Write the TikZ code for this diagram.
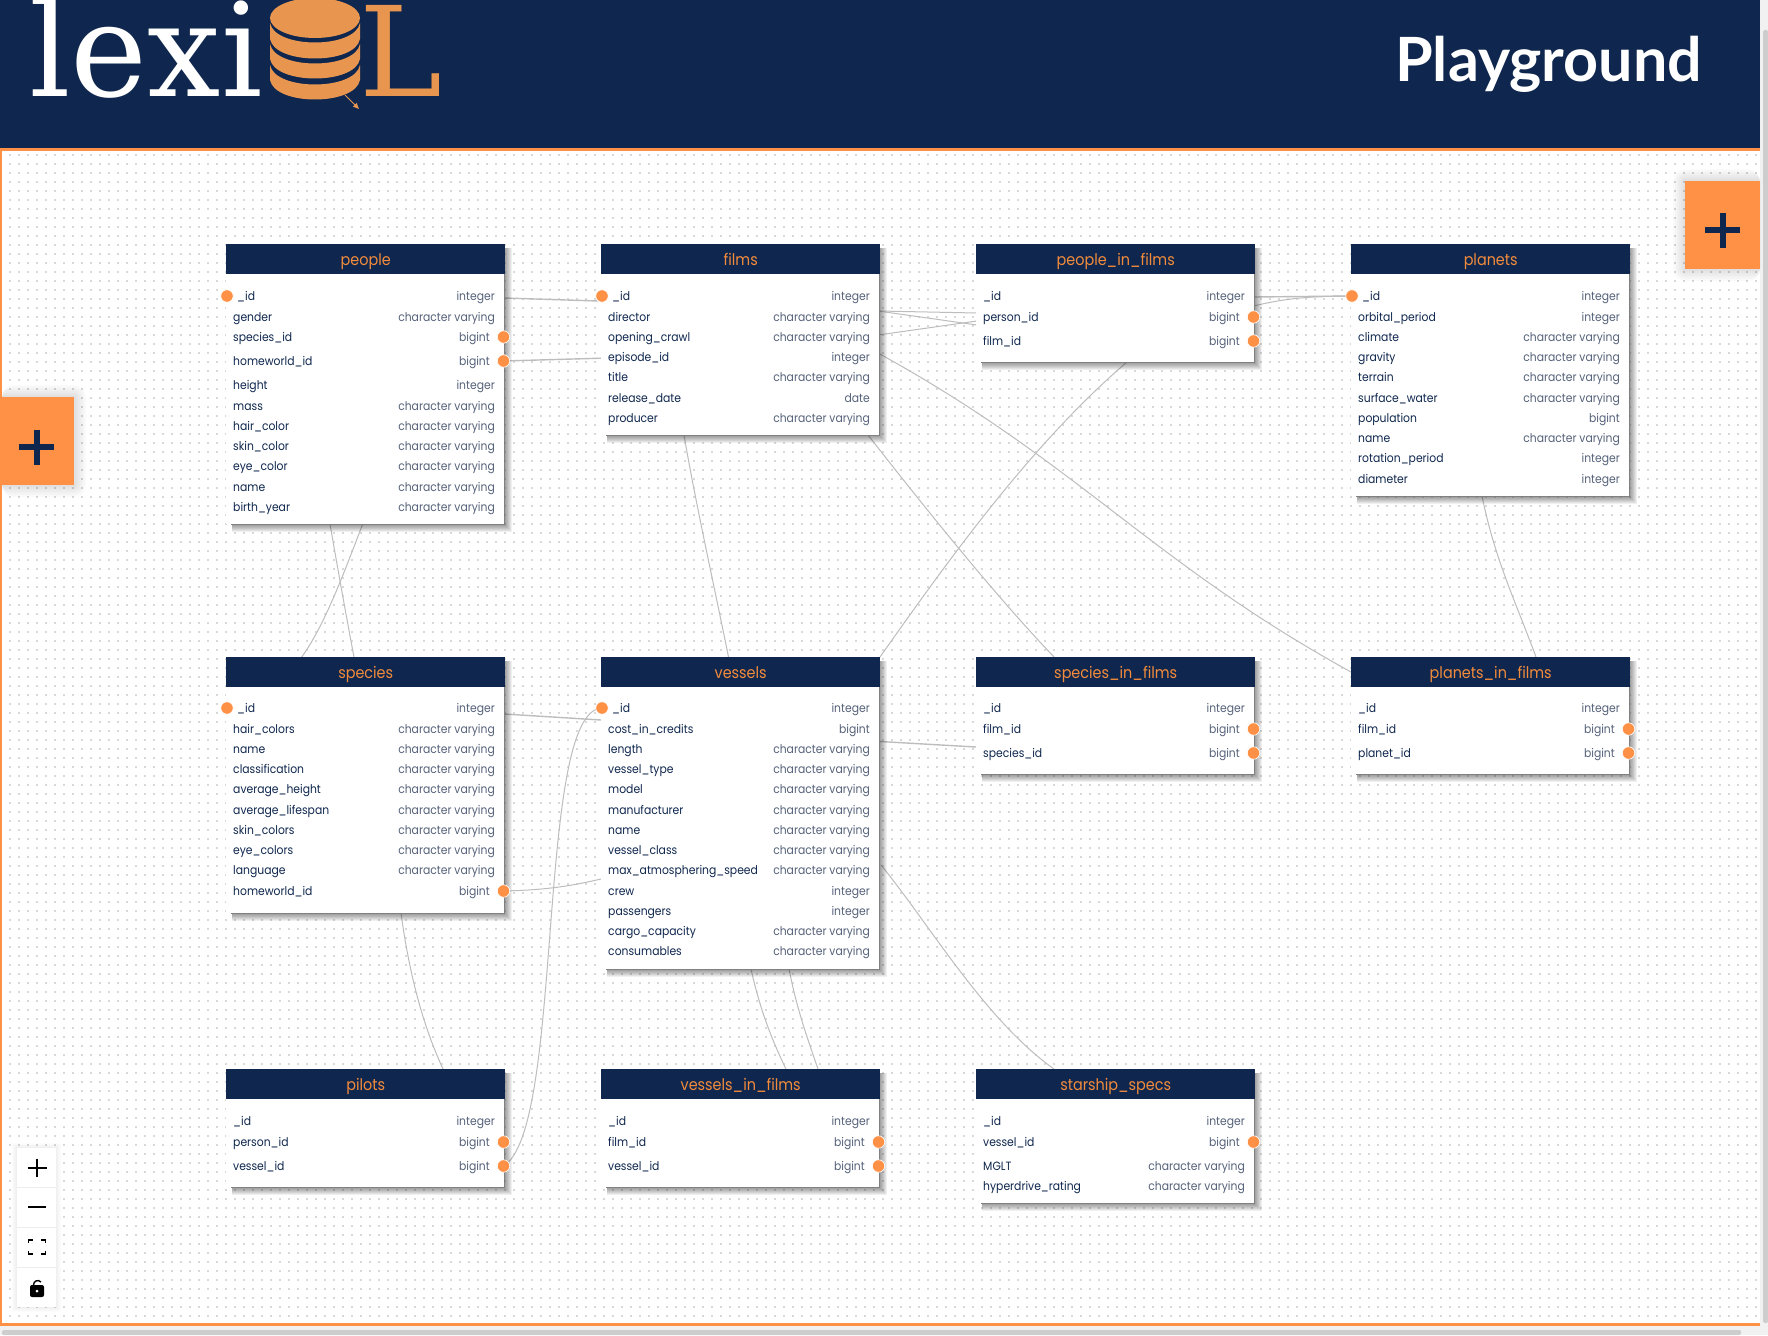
\documentclass[tikz,border=0pt]{standalone}
\usepackage{fontspec}
\usetikzlibrary{arrows.meta,calc}
\setmainfont{Poppins}[FakeStretch=0.9]
\newfontfamily\logofont{DejaVu Serif}
\newfontfamily\titlefont{Lato}[BoldFont={Lato Bold}]
\catcode`_=12
\definecolor{navy}{HTML}{0F274E}
\definecolor{orng}{HTML}{FF9147}
\definecolor{logoorng}{HTML}{E8964F}
\definecolor{typegray}{HTML}{56627A}
\definecolor{linegray}{HTML}{BDBDBD}
\definecolor{griddot}{HTML}{D8D8D8}
\definecolor{scrolltrack}{HTML}{F1F1F1}
\definecolor{scrollthumb}{HTML}{CDCDCD}
\definecolor{titleorng}{HTML}{F28B3C}
\pgfdeclarelayer{paperlayer}
\pgfdeclarelayer{gridlayer}
\pgfdeclarelayer{connlayer}
\pgfsetlayers{paperlayer,gridlayer,connlayer,main}
\tikzset{
  conn/.style={draw=linegray,line width=1pt},
  tablebody/.style={fill=white,inner sep=0pt,anchor=north west},
  tablehead/.style={fill=navy,text=titleorng,inner sep=0pt,anchor=north west,text height=12.5pt,text depth=0.5pt,font=\fontsize{16}{18}\selectfont},
  rowname/.style={anchor=base west,inner sep=0pt,text=navy,font=\fontsize{12}{14}\selectfont},
  rowtype/.style={anchor=base east,inner sep=0pt,text=typegray,font=\fontsize{12}{14}\selectfont},
  keydot/.style={circle,fill=orng,draw=white,line width=0.7pt,minimum size=12.5pt,inner sep=0pt},
  addbtn/.style={fill=orng,inner sep=0pt,anchor=north west,minimum width=75pt,minimum height=88pt},
  plusbar/.style={draw=navy,line width=6pt},
  ctrlbar/.style={draw=black,line width=1.6pt},
}
% #1 id, #2 left, #3 top, #4 bottom, #5 title, #6 rows y/name/type/kind (kind: i left dot, p plain, d right dot)
\newcommand{\dbtable}[6]{%
  \foreach \sd in {1,...,8}{%
    \fill[black,opacity=0.06] ({#2+6},{#3+4}) rectangle ({#2+278+\sd},{#4+\sd});
  }
  \fill[black!50] ({#2+5},{#3+2}) rectangle ({#2+279},{#4+1});
  \node[tablebody,minimum width=278pt,minimum height={#4-#3}] (#1) at (#2,#3) {};
  \node[tablehead,minimum width=279pt,minimum height=30pt] (#1-head) at (#2,#3) {#5};
  \foreach \ry/\rn/\rt/\rk [count=\ri] in {#6}{%
    \if\rk i
      \node[rowname] (#1-r\ri-name) at ({#2+11},{\ry+4}) {\rn};
      \node[keydot] (#1-r\ri-dot) at ({#2+1},\ry) {};
    \else
      \node[rowname] (#1-r\ri-name) at ({#2+7},{\ry+4}) {\rn};
    \fi
    \if\rk d
      \node[rowtype] (#1-r\ri-type) at ({#2+264},{\ry+4}) {\rt};
      \node[keydot] (#1-r\ri-dot) at ({#2+277.5},\ry) {};
    \else
      \node[rowtype] (#1-r\ri-type) at ({#2+269},{\ry+4}) {\rt};
    \fi
  }
}
\begin{document}
\begin{tikzpicture}[x=1pt,y=-1pt]
\useasboundingbox (0,0) rectangle (1768,1335);
\begin{pgfonlayer}{paperlayer}
  \fill[white] (0,0) rectangle (1768,1335);
\end{pgfonlayer}
% dotted canvas
\begin{pgfonlayer}{gridlayer}
  \foreach \gy in {155,164,...,1316}{
    \draw[griddot,line width=1.6pt,dash pattern=on 1.6pt off 7.4pt] (0.2,\gy) -- (1760,\gy);
  }
\end{pgfonlayer}

% tables
\dbtable{people}{226}{244}{524}{people}{296/_id/integer/i,317/gender/character varying/p,337/species_id/bigint/d,361/homeworld_id/bigint/d,385/height/integer/p,406/mass/character varying/p,426/hair_color/character varying/p,446/skin_color/character varying/p,466/eye_color/character varying/p,487/name/character varying/p,507/birth_year/character varying/p}
\dbtable{films}{601}{244}{435}{films}{296/_id/integer/i,317/director/character varying/p,337/opening_crawl/character varying/p,357/episode_id/integer/p,377/title/character varying/p,398/release_date/date/p,418/producer/character varying/p}
\dbtable{pif}{976}{244}{362}{people_in_films}{296/_id/integer/p,317/person_id/bigint/d,341/film_id/bigint/d}
\dbtable{planets}{1351}{244}{496}{planets}{296/_id/integer/i,317/orbital_period/integer/p,337/climate/character varying/p,357/gravity/character varying/p,377/terrain/character varying/p,398/surface_water/character varying/p,418/population/bigint/p,438/name/character varying/p,458/rotation_period/integer/p,479/diameter/integer/p}
\dbtable{species}{226}{657}{913}{species}{708/_id/integer/i,729/hair_colors/character varying/p,749/name/character varying/p,769/classification/character varying/p,789/average_height/character varying/p,810/average_lifespan/character varying/p,830/skin_colors/character varying/p,850/eye_colors/character varying/p,870/language/character varying/p,891/homeworld_id/bigint/d}
\dbtable{vessels}{601}{657}{969}{vessels}{708/_id/integer/i,729/cost_in_credits/bigint/p,749/length/character varying/p,769/vessel_type/character varying/p,789/model/character varying/p,810/manufacturer/character varying/p,830/name/character varying/p,850/vessel_class/character varying/p,870/max_atmosphering_speed/character varying/p,891/crew/integer/p,911/passengers/integer/p,931/cargo_capacity/character varying/p,951/consumables/character varying/p}
\dbtable{sif}{976}{657}{774}{species_in_films}{708/_id/integer/p,729/film_id/bigint/d,753/species_id/bigint/d}
\dbtable{plif}{1351}{657}{774}{planets_in_films}{708/_id/integer/p,729/film_id/bigint/d,753/planet_id/bigint/d}
\dbtable{pilots}{226}{1069}{1187}{pilots}{1121/_id/integer/p,1142/person_id/bigint/d,1166/vessel_id/bigint/d}
\dbtable{vif}{601}{1069}{1187}{vessels_in_films}{1121/_id/integer/p,1142/film_id/bigint/d,1166/vessel_id/bigint/d}
\dbtable{starship}{976}{1069}{1203}{starship_specs}{1121/_id/integer/p,1142/vessel_id/bigint/d,1166/MGLT/character varying/p,1186/hyperdrive_rating/character varying/p}

% connector free ends (they run on behind the tables)
\coordinate (pe-out) at (504,298);
\coordinate (fi-in) at (598,301);
\coordinate (fi-r1) at (878,311);
\coordinate (fi-r2) at (878,335);
\coordinate (fi-r3) at (878,353);
\coordinate (pif-l1) at (977,313);
\coordinate (pif-l2) at (977,325);
\coordinate (pif-l3) at (977,321);
\coordinate (pif-r1) at (1254,297);
\coordinate (pif-r2) at (1254,306);
\coordinate (pif-b) at (1127,362);
\coordinate (pe-b1) at (330,524);
\coordinate (pe-b2) at (362.7,524);
\coordinate (sp-t1) at (354,657);
\coordinate (sp-t2) at (301.7,657);
\coordinate (fi-b1) at (684,435);
\coordinate (fi-b2) at (868,435);
\coordinate (ve-t1) at (728.5,657);
\coordinate (ve-t2) at (880,657);
\coordinate (sif-t) at (1054,657);
\coordinate (plif-l) at (1351,672);
\coordinate (pl-b) at (1482,496);
\coordinate (plif-t) at (1536,657);
\coordinate (sp-r) at (504,714);
\coordinate (ve-l1) at (601,720);
\coordinate (ve-l2) at (601,879);
\coordinate (ve-r1) at (880,741.5);
\coordinate (ve-r2) at (881,865);
\coordinate (sif-l) at (976,747);
\coordinate (ss-t) at (1054,1069);
\coordinate (sp-b) at (401,913);
\coordinate (pi-t) at (443,1069);
\coordinate (ve-b1) at (751,969);
\coordinate (ve-b2) at (789,969);
\coordinate (vif-t1) at (786,1069);
\coordinate (vif-t2) at (818,1069);

\begin{pgfonlayer}{connlayer}
  \draw[conn,line width=1.4pt] (pe-out) -- (fi-in);
  \draw[conn,line width=1.4pt] (people-r4-dot.center) -- (films-r4-name.west);
  \draw[conn] (fi-r1) -- (pif-l1);
  \draw[conn] (fi-r1) -- (pif-l2);
  \draw[conn] (fi-r2) -- (pif-l3);
  \draw[conn] (fi-r3) .. controls (1078,463) and (1151,562) .. (plif-l);
  \draw[conn,line width=1.4pt] (pif-r1) -- (planets-r1-dot.center);
  \draw[conn] (pif-r2) .. controls (1285,298) and (1315,296) .. (planets-r1-dot.center);
  \draw[conn] (ve-t2) .. controls (945,565) and (1030,445) .. (pif-b);
  \draw[conn] (fi-b2) .. controls (915,495) and (990,590) .. (sif-t);
  \draw[conn] (fi-b1) .. controls (695,500) and (715,590) .. (ve-t1);
  \draw[conn] (pe-b1) .. controls (338,570) and (346,615) .. (sp-t1);
  \draw[conn] (pe-b2) .. controls (345,570) and (325,625) .. (sp-t2);
  \draw[conn] (pl-b) .. controls (1495,560) and (1515,600) .. (plif-t);
  \draw[conn,line width=1.4pt] (sp-r) -- (ve-l1);
  \draw[conn] (species-r10-dot.center) .. controls (550,890) and (575,885) .. (ve-l2);
  \draw[conn] (pilots-r3-dot.center) .. controls (565,1130) and (535,710) .. (vessels-r1-dot.center);
  \draw[conn,line width=1.4pt] (ve-r1) -- (sif-l);
  \draw[conn] (ve-r2) .. controls (930,925) and (985,1020) .. (ss-t);
  \draw[conn] (sp-b) .. controls (410,980) and (425,1030) .. (pi-t);
  \draw[conn] (ve-b1) .. controls (760,1010) and (772,1040) .. (vif-t1);
  \draw[conn] (ve-b2) .. controls (797,1010) and (808,1040) .. (vif-t2);
\end{pgfonlayer}

% page chrome
\fill[navy] (0,0) rectangle (1760,148);
\fill[orng] (0,148) rectangle (1760,151);
\fill[orng] (0,148) rectangle (2,1326);
\fill[orng] (0,1323) rectangle (1760,1326);
\fill[scrolltrack] (1760,0) rectangle (1768,1335);
\fill[scrolltrack] (0,1326) rectangle (1768,1335);
\fill[scrollthumb,rounded corners=1.5pt] (1763,30) rectangle (1768,1323);
\fill[scrollthumb,rounded corners=1.5pt] (2,1330) rectangle (1741,1335);

% logo
\node[anchor=base west,inner sep=0pt,text=white,font=\logofont\fontsize{130}{130}\selectfont] (logo-lexi) at (29,97) {lexi};
\node[anchor=base west,inner sep=0pt,text=logoorng,font=\logofont\fontsize{125}{125}\selectfont] (logo-l) at (359,97) {L};
\fill[logoorng] (315,18) ellipse [x radius=45,y radius=20];
\foreach \ba/\bb in {23/39,44/59,65/80}{
  \fill[logoorng] (270,\ba) .. controls (275,{\ba+26}) and (355,{\ba+26}) .. (360,\ba) -- (360,\bb)
    .. controls (355,{\bb+26}) and (275,{\bb+26}) .. (270,\bb) -- cycle;
}
\coordinate (logo-a) at (345,95);
\coordinate (logo-b) at (359,109);
\draw[logoorng,line width=1pt,-{Triangle[length=6pt,width=5pt]}] (logo-a) -- (logo-b);

\node[anchor=base west,inner sep=0pt,text=white,font=\titlefont\bfseries\fontsize{61}{62}\selectfont] (title) at (1395,81.5) {Playground};

% orange add buttons
\foreach \sd in {2,4,...,12}{
  \fill[black,opacity=0.018,rounded corners=\sd pt] ({1685-\sd},{181-\sd}) rectangle (1760,{269+\sd});
  \fill[black,opacity=0.018,rounded corners=\sd pt] (2,{397-\sd}) rectangle ({74+\sd},{485+\sd});
}
\node[addbtn] (add-right) at (1685,181) {};
\node[addbtn,minimum width=74pt] (add-left) at (0,397) {};
\draw[plusbar] (1722.5,212.5) -- (1722.5,247.5) (1705,230) -- (1740,230);
\draw[plusbar] (36.5,429.5) -- (36.5,464.5) (19,447) -- (54,447);

% zoom controls
\foreach \sd in {1,...,5}{
  \fill[black,opacity=0.012] ({17-\sd},{1148-\sd}) rectangle ({56+\sd},{1307+\sd});
}
\node[fill=white,inner sep=0pt,anchor=north west,minimum width=39pt,minimum height=159pt] (ctrl) at (17,1148) {};
\foreach \sy in {1187.5,1227.5,1267.5}{
  \fill[black!7] (17,\sy-0.5) rectangle (56,\sy+0.5);
}
\draw[ctrlbar] (37,1158.5) -- (37,1177) (27.5,1167.7) -- (46.5,1167.7);
\draw[ctrlbar] (28,1207) -- (46,1207);
\draw[ctrlbar,line width=1.8pt] (28.5,1243) -- (28.5,1240) -- (33,1240) (41,1240) -- (45.5,1240) -- (45.5,1243)
  (45.5,1251) -- (45.5,1254) -- (41,1254) (33,1254) -- (28.5,1254) -- (28.5,1251);
\fill[black,rounded corners=2pt] (30,1285) rectangle (44,1297);
\draw[black,line width=1.4pt] (33.5,1285) .. controls (33.5,1281) and (38,1279) .. (41,1282);
\fill[white] (37,1291) circle [radius=1.5];
\end{tikzpicture}
\end{document}
